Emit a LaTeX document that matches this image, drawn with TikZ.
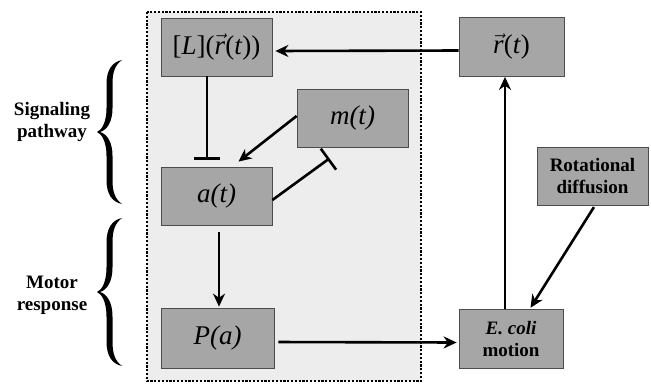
\documentclass[tikz,border=0pt]{standalone}
\usepackage{fontspec}
\setmainfont{Liberation Serif}
\usetikzlibrary{arrows.meta,calc}
\newcommand{\vr}{\ensuremath{\vec{\mbox{\textit{r}}}}}
\begin{document}
\begin{tikzpicture}[x=1pt,y=-1pt,
  box/.style={draw=black!70, line width=0.8pt, fill=black!35, inner sep=0pt,
    minimum width=111pt, minimum height=58pt, align=center},
  big/.style={font=\fontsize{27}{30}\selectfont},
  lbl/.style={font=\bfseries\fontsize{19}{22}\selectfont, align=center},
  conn/.style={line width=2.6pt, -{Stealth[length=13pt,width=12pt]}},
  inh/.style={line width=2.6pt, -{Bar[width=26pt]}},
  pics/mybrace/.style={code={
    \fill (25,-72) .. controls (15,-70) and (9.5,-62) .. (9.5,-48) -- (9.5,-24)
      .. controls (9.5,-10) and (5,-2) .. (0,0)
      .. controls (5,2) and (9.5,10) .. (9.5,24) -- (9.5,48)
      .. controls (9.5,62) and (15,70) .. (25,72)
      .. controls (18,67) and (15.5,60) .. (15.5,48) -- (15.5,24)
      .. controls (15.5,10) and (10,2) .. (3,0)
      .. controls (10,-2) and (15.5,-10) .. (15.5,-24) -- (15.5,-48)
      .. controls (15.5,-60) and (18,-67) .. (25,-72) -- cycle;
  }}
]
\useasboundingbox (0,0) rectangle (651,384);
% shaded dotted region
\fill[black!7] (147,12) rectangle (421,381);
\draw[line width=2.4pt, dash pattern=on 2.2pt off 1.6pt, black] (147,12) rectangle (421,381);

% boxes
\node[box,big] (L) at (216.5,47) {[\textit{L}](\vr(\textit{t}))};
\node[box,big] (m) at (352.5,118) {\textit{m(t)}};
\node[box,big] (a) at (216.5,196) {\textit{a(t)}};
\node[box,big,minimum width=113pt,minimum height=60pt] (P) at (217.5,338) {\textit{P(a)}};
\node[box,big,minimum width=105pt,minimum height=59pt] (r) at (511.5,46.5) {\vr(\textit{t})};
\node[box,lbl] (rot) at (592.5,176) {Rotational\\diffusion};
\node[box,lbl,minimum width=104pt,minimum height=59pt] (E) at (511,338.5) {\textit{E. coli}\\motion};

% side labels
\node[lbl] (sig) at (52,122) {Signaling\\pathway};
\node[lbl] (mot) at (52,295) {Motor\\response};
\pic at (97,132) {mybrace};
\pic[yscale=1.028] at (97,292) {mybrace};

% connectors
\draw[conn, shorten >=3pt] ([yshift=-4pt]r.west) -- ([yshift=-4pt]L.east);
\draw[inh] ([xshift=-9.5pt]L.south) -- ([xshift=-9.5pt,yshift=7pt]a.north);
\draw[conn] ([yshift=2pt]m.west) -- ([xshift=22pt,yshift=5pt]a.north);
\draw[inh] ([yshift=-4pt]a.east) -- ([xshift=-23pt,yshift=-11pt]m.south);
\draw[conn, shorten <=7pt, shorten >=1pt] ([xshift=2.5pt]a.south) -- ([xshift=1.5pt]P.north);
\draw[conn, shorten <=4pt, shorten >=2pt] ([yshift=-4pt]P.east) -- ([yshift=-4pt]E.west);
\draw[conn, shorten >=0.5pt] ([xshift=-6pt]E.north) -- ([xshift=-6.5pt]r.south);
\draw[conn, shorten <=2pt, shorten >=1pt] ([xshift=2.5pt]rot.south) -- ([xshift=19pt]E.north);
\end{tikzpicture}
\end{document}
